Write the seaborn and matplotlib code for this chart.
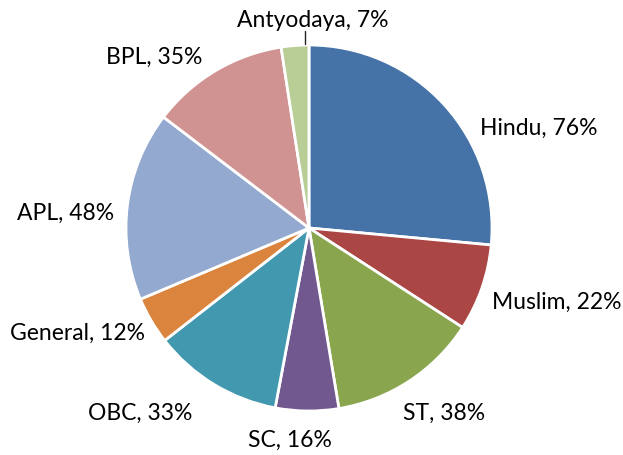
import matplotlib
matplotlib.use("Agg")
import matplotlib.pyplot as plt
import seaborn as sns

sns.set_theme(style="white")
plt.rcParams['font.family'] = ['Lato', 'DejaVu Sans']

categories = ["Hindu", "Muslim", "ST", "SC", "OBC", "General", "APL", "BPL", "Antyodaya"]
values = [76, 22, 38, 16, 33, 12, 48, 35, 7]
colors = ["#4572A7", "#AA4643", "#89A54E", "#71588F", "#4198AF",
          "#DB843D", "#93A9CF", "#D19392", "#B9CD96"]

# label centre positions (in pie-radius units) to mimic Excel placement
W, H = 623, 455
cx, cy, r = 309, 228, 183
label_px = [(539, 128), (557, 302), (444, 413), (290, 440), (140, 413),
            (77, 333), (66, 213), (154, 57), (313, 20)]

fig = plt.figure(figsize=(W / 100, H / 100), dpi=100)
ax = fig.add_axes([(cx - r) / W, (H - cy - r) / H, 2 * r / W, 2 * r / H])
wedges, _ = ax.pie(values, colors=colors, startangle=90, counterclock=False,
                   wedgeprops=dict(edgecolor="white", linewidth=2))
ax.set_xlim(-1, 1)
ax.set_ylim(-1, 1)
ax.set_aspect("equal")
ax.axis("off")

for cat, val, (px, py) in zip(categories, values, label_px):
    ax.text((px - cx) / r, (cy - py) / r, f"{cat}, {val}%", ha="center", va="center",
            fontsize=16.5, color="#000000", clip_on=False)

# leader line for the small Antyodaya slice
ax.plot([(305 - cx) / r, (305 - cx) / r], [(cy - 31) / r, (cy - 44) / r],
        color="#222222", linewidth=1, clip_on=False)

fig.savefig("out.png", dpi=100)
